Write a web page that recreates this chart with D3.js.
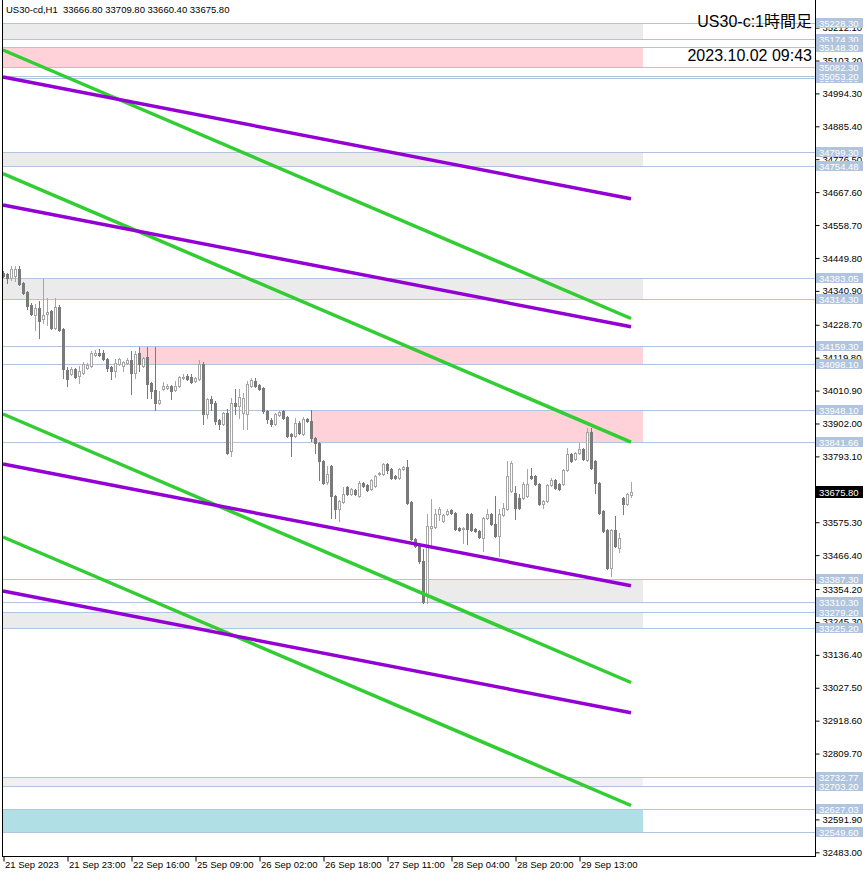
<!DOCTYPE html>
<html><head><meta charset="utf-8">
<script src="https://cdn.jsdelivr.net/npm/d3@7"></script>
<style>
body{margin:0;background:#fff}
text{font-family:"Liberation Sans","Noto Sans CJK JP",sans-serif}
</style>
</head><body>
<svg id="c" width="866" height="876"></svg>
<script>
// ---------- data ----------
const symbolTitle = "US30-cd,H1";
const ohlcHeader = [33666.80, 33709.80, 33660.40, 33675.80];
const chartTitle = "US30-c:1時間足";
const chartTime = "2023.10.02 09:43";

const opens = [34399.6,34396.3,34383.1,34389.7,34412.8,34366.5,34336.8,34293.8,34260.8,34283.9,
34247.6,34264.1,34274.0,34217.8,34287.2,34214.5,34079.1,34065.9,34082.4,34059.3,
34069.2,34085.7,34092.3,34128.6,34135.2,34135.2,34115.4,34088.9,34075.8,34099.0,
34092.3,34102.2,34112.1,34069.2,34135.2,34092.3,34122.0,34036.1,34013.0,33970.0,
34016.3,34019.6,34026.2,34013.0,34026.2,34052.7,34059.3,34056.0,34042.7,34049.4,
34099.0,33933.7,33983.2,33970.0,33913.9,33900.7,33937.1,33811.4,33970.0,33960.1,
33937.1,33933.7,34026.2,34042.7,34029.5,34019.6,33943.6,33913.9,33900.7,33930.4,
33943.6,33923.8,33867.6,33861.0,33903.9,33867.6,33917.2,33910.6,33854.4,33837.9,
33778.4,33709.0,33761.9,33662.8,33619.8,33642.9,33692.5,33669.4,33682.6,33662.8,
33705.7,33699.1,33685.9,33695.8,33735.5,33735.5,33768.5,33752.0,33728.9,33722.3,
33752.0,33758.6,33642.9,33520.7,33497.6,33448.0,33339.0,33557.1,33560.4,33603.3,
33580.2,33603.3,33616.5,33606.6,33557.1,33553.8,33603.3,33603.3,33553.8,33547.1,
33524.0,33590.1,33603.3,33570.3,33530.6,33600.0,33619.8,33679.3,33672.7,33656.2,
33656.2,33662.8,33728.9,33728.9,33702.4,33636.3,33646.2,33699.1,33715.6,33702.4,
33702.4,33748.7,33801.5,33785.0,33804.8,33818.0,33781.7,33874.2,33778.4,33705.7,
33613.2,33550.5,33424.9,33550.5,33491.0,33656.2,33636.3,33666.8];
const highs = [34406.2,34399.6,34422.7,34422.7,34422.7,34369.8,34340.1,34300.4,34297.1,34307.0,
34379.7,34316.9,34277.3,34316.9,34293.8,34217.8,34088.9,34088.9,34085.7,34092.3,
34105.5,34102.2,34141.8,34145.1,34148.4,34145.1,34118.7,34092.3,34115.4,34118.7,
34108.8,34118.7,34141.8,34141.8,34155.0,34122.0,34155.0,34039.4,34155.0,34009.7,
34039.4,34032.8,34029.5,34042.7,34059.3,34065.9,34065.9,34065.9,34056.0,34112.1,
34105.5,33986.5,33993.1,33976.6,33917.2,33940.3,33950.2,33986.5,34016.3,34016.3,
34003.1,34042.7,34052.7,34052.7,34032.8,34022.9,33946.9,33920.5,33937.1,33943.6,
33946.9,33927.1,33870.9,33920.5,33910.6,33923.8,33920.5,33946.9,33857.7,33841.2,
33781.7,33761.9,33765.2,33666.1,33649.5,33692.5,33695.8,33689.2,33685.9,33712.3,
33709.0,33702.4,33718.9,33732.1,33742.1,33771.8,33771.8,33755.3,33732.2,33755.3,
33761.9,33781.7,33646.2,33524.0,33500.9,33487.7,33603.3,33652.8,33619.8,33626.4,
33603.3,33619.8,33619.8,33609.9,33560.4,33560.4,33606.6,33606.6,33557.1,33550.5,
33593.4,33619.8,33606.6,33662.8,33619.8,33639.6,33778.4,33778.4,33695.8,33669.4,
33709.0,33752.0,33755.3,33732.2,33705.7,33649.5,33702.4,33722.3,33719.0,33705.7,
33752.0,33821.3,33804.8,33808.1,33837.9,33821.3,33887.4,33887.4,33781.7,33709.0,
33616.5,33553.8,33553.8,33596.7,33540.5,33659.5,33672.7,33709.8];
const lows = [34386.4,34366.5,34376.5,34373.1,34359.9,34330.2,34280.6,34260.8,34211.2,34184.8,
34234.4,34227.8,34214.5,34214.5,34207.9,34052.7,34026.2,34062.6,34052.7,34036.1,
34065.9,34082.4,34088.9,34125.3,34125.3,34112.1,34075.8,34049.4,34056.0,34095.6,
34075.8,34099.0,33999.8,34052.7,34075.8,34088.9,33986.5,33986.5,33946.9,33966.7,
34013.0,34016.3,33983.2,34009.7,34022.9,34049.4,34046.0,34036.1,34039.4,34046.0,
33900.7,33920.5,33946.9,33900.7,33884.1,33897.4,33801.5,33794.9,33933.7,33920.5,
33884.1,33884.1,34022.9,34022.9,34013.0,33937.1,33903.9,33894.1,33897.4,33927.1,
33917.2,33857.7,33794.9,33857.7,33867.6,33864.3,33907.3,33844.5,33804.8,33715.6,
33702.4,33702.4,33590.1,33590.1,33580.2,33639.6,33666.1,33666.1,33666.1,33659.5,
33692.5,33679.3,33682.6,33692.5,33732.2,33732.2,33738.8,33719.0,33719.0,33719.0,
33748.7,33636.3,33517.4,33494.3,33441.4,33309.2,33309.2,33491.0,33557.1,33583.5,
33576.9,33600.0,33603.3,33550.5,33547.1,33507.5,33504.2,33547.1,33543.8,33524.0,
33481.0,33586.8,33567.0,33527.3,33464.5,33596.7,33616.5,33676.0,33586.8,33619.8,
33652.9,33659.5,33719.0,33699.1,33633.0,33623.1,33642.9,33695.8,33685.9,33682.6,
33699.1,33745.4,33775.1,33781.7,33801.5,33781.7,33778.4,33752.0,33672.7,33603.3,
33543.8,33421.6,33398.4,33494.3,33477.7,33603.3,33633.0,33660.4];
const closes = [34389.7,34383.1,34412.8,34412.8,34363.2,34333.5,34290.5,34264.1,34283.9,34241.0,
34260.8,34270.7,34217.8,34287.2,34211.2,34082.4,34049.4,34082.4,34056.0,34075.8,
34099.0,34095.6,34135.2,34135.2,34128.6,34115.4,34085.7,34075.8,34102.2,34115.4,
34105.5,34112.1,34069.2,34131.9,34099.0,34118.7,34032.8,34009.7,33970.0,33979.9,
34026.2,34026.2,34009.7,34026.2,34056.0,34056.0,34049.4,34039.4,34052.7,34099.0,
33933.7,33983.2,33970.0,33910.6,33900.7,33937.1,33804.8,33970.0,33960.1,33989.8,
33986.5,34032.8,34046.0,34026.2,34016.3,33943.6,33917.2,33900.7,33933.7,33940.3,
33920.5,33861.0,33861.0,33903.9,33870.9,33917.2,33910.6,33854.4,33837.9,33778.4,
33705.7,33735.5,33662.8,33619.8,33646.2,33669.4,33669.4,33685.9,33669.4,33705.7,
33695.8,33682.6,33715.6,33728.9,33738.8,33768.5,33748.7,33722.3,33722.3,33752.0,
33758.6,33639.6,33520.7,33497.6,33448.0,33312.5,33563.7,33563.7,33603.3,33619.8,
33600.0,33613.2,33606.6,33553.8,33550.5,33557.1,33553.8,33550.5,33547.1,33527.3,
33590.1,33603.3,33570.3,33530.6,33603.3,33623.1,33728.9,33771.8,33623.1,33623.1,
33702.4,33702.4,33722.3,33702.4,33636.3,33646.2,33699.1,33715.6,33689.2,33685.9,
33748.7,33801.5,33778.4,33804.8,33818.0,33785.0,33874.2,33755.3,33705.7,33606.6,
33547.1,33424.9,33550.5,33497.6,33524.0,33636.3,33669.4,33675.8];

const xTickIndex = [0,16,32,48,64,80,96,112,128,144];
const xTickLabels = ["21 Sep 2023","21 Sep 23:00","22 Sep 16:00","25 Sep 09:00","26 Sep 02:00",
  "26 Sep 18:00","27 Sep 11:00","28 Sep 04:00","28 Sep 20:00","29 Sep 13:00"];
const yTickValues = [35212.10,35103.20,34994.30,34885.40,34776.50,34667.60,34558.70,34449.80,34340.90,
  34228.70,34119.80,34010.90,33902.00,33793.10,33684.20,33575.30,33466.40,33354.20,33245.30,
  33136.40,33027.50,32918.60,32809.70,32700.80,32591.90,32483.00];

const levelPrices = [35228.30,35174.30,35148.30,35082.30,35046.00,35053.20,34799.30,34754.48,34383.05,34314.30,
  34159.30,34098.10,33948.10,33841.66,33387.30,33310.30,33279.20,33225.20,32732.77,32703.20,32627.03,32549.60];

const zoneHigh  = [35228.30,35148.30,34799.30,34383.05,34159.30,33948.10,33387.30,33279.20,32732.77,32627.03];
const zoneLow   = [35174.30,35082.30,34754.48,34314.30,34098.10,33841.66,33310.30,33225.20,32703.20,32549.60];
const zoneStartBar = [0,0,0,0,34,77,106,0,0,0];
const zoneEndBar = 160;
const zoneKind  = ["neutral","supply","neutral","neutral","supply","supply","neutral","neutral","faint","demand"];

const trendKind = ["green","purple","green","purple","green","purple","green","purple"];
const trendStartBar = 0, trendEndBar = 157;
const trendStartPrice = [35138.0,35048.6,34728.9,34625.0,33933.4,33768.0,33526.4,33347.7];
const trendEndPrice   = [34249.4,34645.6,33840.4,34222.0,33044.9,33364.9,32637.9,32944.6];

// ---------- drawing ----------
const svg = d3.select("#c");
const plotLeft = 3, plotRight = 815, plotBottom = 856;
const x = d3.scaleLinear().domain([0, 160]).range([3, 643]);
const y = d3.scaleLinear().domain([32483, 35228.3]).range([852.3, 22.7]);
const zoneColor = {neutral:"#ebebeb", supply:"#ffd1d9", demand:"#b0e0e6", faint:"#f0f0f0"};
const trendColor = {green:"#32cd32", purple:"#9400d3"};
const bullColor = "#a6a6a6", bearColor = "#7a7a7a";

const g = svg.append("g");

// zones
g.selectAll("rect.zone").data(zoneHigh).join("rect")
  .attr("class","zone")
  .attr("x",(d,i)=>Math.round(x(zoneStartBar[i])))
  .attr("y",(d,i)=>Math.round(y(d)))
  .attr("width",(d,i)=>Math.round(x(zoneEndBar))-Math.round(x(zoneStartBar[i])))
  .attr("height",(d,i)=>Math.round(y(zoneLow[i]))-Math.round(y(d)))
  .attr("fill",(d,i)=>zoneColor[zoneKind[i]]);

// level lines
g.selectAll("line.lvl").data(levelPrices).join("line")
  .attr("x1",plotLeft).attr("x2",plotRight)
  .attr("y1",d=>Math.round(y(d))+0.5).attr("y2",d=>Math.round(y(d))+0.5)
  .attr("stroke","#b0c4de").attr("stroke-width",1);

// candles
const idx = d3.range(opens.length);
const cg = g.append("g").attr("shape-rendering","crispEdges");
idx.forEach(i=>{
  const o=opens[i], c=closes[i], h=highs[i], l=lows[i];
  const cx = Math.round(x(i));
  const bull = c >= o;
  const col = bull ? bullColor : bearColor;
  const top = Math.round(y(Math.max(o,c)));
  const bot = Math.round(y(Math.min(o,c)));
  const yh = Math.round(y(h)), yl = Math.round(y(l));
  cg.append("line").attr("x1",cx+0.5).attr("x2",cx+0.5).attr("y1",yh).attr("y2",top)
    .attr("stroke",col);
  cg.append("line").attr("x1",cx+0.5).attr("x2",cx+0.5).attr("y1",bot+1).attr("y2",yl+1)
    .attr("stroke",col);
  if (bull) {
    cg.append("rect").attr("x",cx-0.5).attr("y",top+0.5).attr("width",2)
      .attr("height",Math.max(0,bot-top)).attr("fill","#fff").attr("stroke",col);
  } else {
    cg.append("rect").attr("x",cx-1).attr("y",top).attr("width",3)
      .attr("height",Math.max(1,bot-top+1)).attr("fill",col);
  }
});

// trend lines
g.selectAll("line.trend").data(trendKind).join("line")
  .attr("x1",x(trendStartBar)).attr("x2",x(trendEndBar))
  .attr("y1",(d,i)=>y(trendStartPrice[i])).attr("y2",(d,i)=>y(trendEndPrice[i]))
  .attr("stroke",d=>trendColor[d]).attr("stroke-width",3.5).attr("stroke-linecap","butt");

// white area under x axis
svg.append("rect").attr("x",0).attr("y",plotBottom+1).attr("width",866).attr("height",20).attr("fill","#fff");

// price axis
const yAxis = d3.axisRight(y).tickValues(yTickValues).tickFormat(d3.format(".2f"))
  .tickSize(4).tickPadding(3).tickSizeOuter(0);
const ya = svg.append("g").attr("transform",`translate(${plotRight+0.5},0)`).call(yAxis);
ya.select(".domain").remove();
ya.selectAll("text").attr("font-size","9.5px").attr("fill","#000")
  .style("font-family","'Liberation Sans',sans-serif");
ya.selectAll("line").attr("stroke","#000");

// time axis
const xAxis = d3.axisBottom(x).tickValues(xTickIndex).tickFormat((d,i)=>xTickLabels[i])
  .tickSize(5).tickSizeOuter(0);
const xa = svg.append("g").attr("transform",`translate(0.5,${plotBottom+0.5})`).call(xAxis);
xa.select(".domain").remove();
xa.selectAll("text").attr("text-anchor","start").attr("x",1).attr("y",5).attr("dy","0.71em")
  .attr("font-size","9.5px").attr("fill","#000")
  .style("font-family","'Liberation Sans',sans-serif");
xa.selectAll("line").attr("stroke","#000");

// frame
svg.append("line").attr("x1",plotLeft-0.5).attr("x2",plotLeft-0.5).attr("y1",0).attr("y2",plotBottom+1).attr("stroke","#000");
svg.append("line").attr("x1",plotRight+0.5).attr("x2",plotRight+0.5).attr("y1",0).attr("y2",plotBottom+1).attr("stroke","#000");
svg.append("line").attr("x1",plotLeft-1).attr("x2",plotRight+1).attr("y1",plotBottom+0.5).attr("y2",plotBottom+0.5).attr("stroke","#000");

// level labels on axis
const lg = svg.append("g");
levelPrices.forEach(p=>{
  const yy = Math.round(y(p));
  lg.append("rect").attr("x",816).attr("y",yy-5).attr("width",47).attr("height",10).attr("fill","#b0c4de");
  lg.append("text").attr("x",819).attr("y",yy+3.5).attr("font-size","9.5px").attr("fill","#fff")
    .text(p.toFixed(2));
});

// current price label
const last = closes[closes.length-1];
const yl = Math.round(y(last));
svg.append("rect").attr("x",816).attr("y",yl-6).attr("width",47).attr("height",12).attr("fill","#000");
svg.append("text").attr("x",819).attr("y",yl+3.5).attr("font-size","9.5px").attr("fill","#fff").text(last.toFixed(2));

// header texts
svg.append("text").attr("x",6).attr("y",13).attr("font-size","9.5px").attr("fill","#000")
  .style("white-space","pre")
  .text(symbolTitle + "  " + ohlcHeader.map(v=>v.toFixed(2)).join(" "));
svg.append("text").attr("x",812).attr("y",27).attr("text-anchor","end").attr("font-size","16px").attr("fill","#000")
  .text(chartTitle);
svg.append("text").attr("x",812).attr("y",61).attr("text-anchor","end").attr("font-size","16px").attr("fill","#000")
  .text(chartTime);
</script>
</body></html>
